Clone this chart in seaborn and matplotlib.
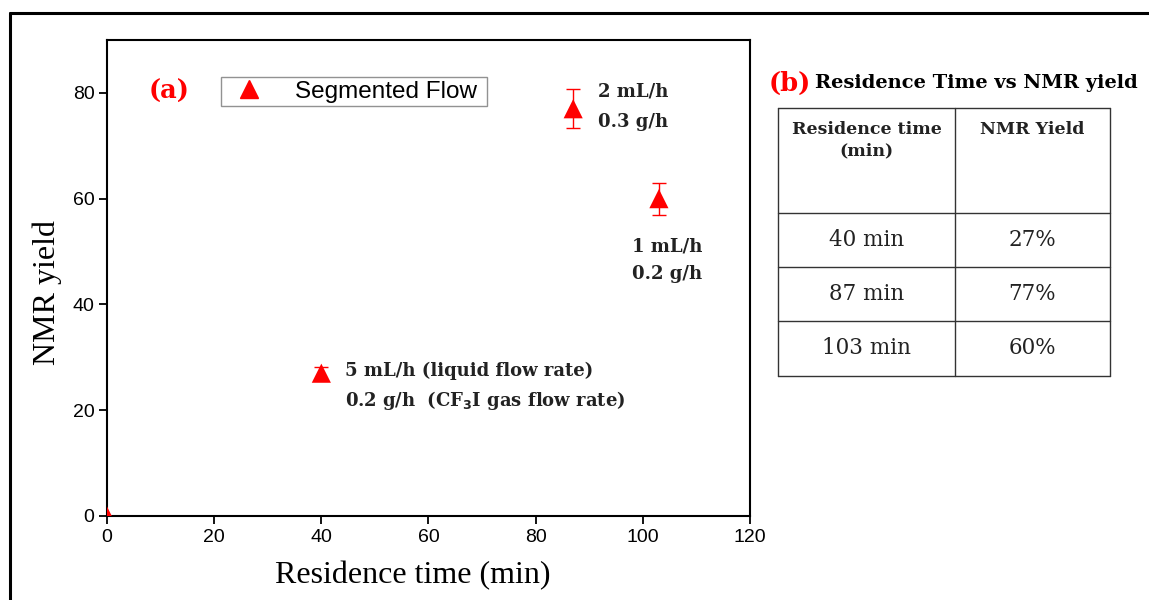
import matplotlib
matplotlib.use("Agg")
import matplotlib.pyplot as plt
import seaborn as sns
import pandas as pd
from matplotlib.lines import Line2D

# ---- data ----
residence_time = [0, 40, 87, 103]
nmr_yield = [0, 27, 77, 60]
yield_err = [0, 1.2, 3.7, 3.0]
series_name = "Segmented Flow"

table_header = ["Residence time\n(min)", "NMR Yield"]
table_times = ["40 min", "87 min", "103 min"]
table_yields = ["27%", "77%", "60%"]

x_ticks = [0, 20, 40, 60, 80, 100, 120]
y_ticks = [0, 20, 40, 60, 80]

sns.set_theme(style="white")
plt.rcParams["font.family"] = ["Liberation Sans", "DejaVu Sans"]

fig = plt.figure(figsize=(11.49, 6.0), dpi=100)
ax = fig.add_axes([107/1149, 84/600, 643/1149, 476/600])

df = pd.DataFrame({"t": residence_time, "y": nmr_yield, "s": [series_name]*len(residence_time)})
ax.errorbar(residence_time, nmr_yield, yerr=yield_err, fmt="none", ecolor="red",
            elinewidth=1.0, capsize=5, capthick=1.0, zorder=2)
sns.scatterplot(data=df, x="t", y="y", hue="s", palette=["red"], marker="^", s=190,
                edgecolor="none", ax=ax, zorder=3, legend=False)

ax.set_xlim(0, 120)
ax.set_ylim(0, 90)
ax.set_xticks(x_ticks)
ax.set_yticks(y_ticks)
ax.tick_params(axis="both", direction="out", length=6, width=1.3, color="black",
               labelsize=14, labelcolor="black", bottom=True, left=True, pad=3)
for lab in ax.get_xticklabels() + ax.get_yticklabels():
    lab.set_family("Liberation Sans")
for sp in ax.spines.values():
    sp.set_color("black")
    sp.set_linewidth(1.5)

ax.set_xlabel("Residence time (min)", fontsize=23, family="Liberation Serif", color="black")
ax.set_ylabel("NMR yield", fontsize=23, family="Liberation Serif", color="black")
ax.xaxis.set_label_coords(0.475, -0.095)
ax.yaxis.set_label_coords(-0.07, 0.47)

# legend
handle = Line2D([], [], marker="^", color="red", linestyle="none", markersize=13)
leg = ax.legend([handle], [series_name + " "], loc="upper left", bbox_to_anchor=(0.177, 0.922),
                frameon=True, fancybox=False, fontsize=17.5, handletextpad=0.9,
                borderpad=0.15, edgecolor="#777777", borderaxespad=0, handlelength=2.0)
leg.get_frame().set_linewidth(1.0)
for t in leg.get_texts():
    t.set_color("black")

SERIF = "DejaVu Serif"
ax.text(0.064, 0.893, "(a)", transform=ax.transAxes, fontsize=18.5, color="red",
        family=SERIF, fontweight="bold", va="center")

ann_kw = dict(family=SERIF, fontweight="bold", color="#222222", fontsize=13, va="center")
ax.text(44.4, 27.4, "5 mL/h (liquid flow rate)", **ann_kw)
ax.text(44.4, 21.9, "0.2 g/h  (CF$_\\mathbf{3}$I gas flow rate)", **ann_kw)
ax.text(91.6, 80.2, "2 mL/h", **ann_kw)
ax.text(91.6, 74.5, "0.3 g/h", **ann_kw)
ax.text(98.0, 51.0, "1 mL/h", **ann_kw)
ax.text(98.0, 45.8, "0.2 g/h", **ann_kw)

# ---- table (b) ----
def fx(px):
    return px / 1149
def fy(py):
    return 1 - py / 600

fig.text(fx(769), fy(83), "(b)", fontsize=18.5, color="red", family=SERIF,
         fontweight="bold", va="center", ha="left")
fig.text(fx(815), fy(83), "Residence Time vs NMR yield", fontsize=14, color="black",
         family=SERIF, fontweight="bold", va="center", ha="left")

col_x = [778, 955, 1110]
row_y = [108, 213, 267, 321, 376]
lw = 1.0
for x in col_x:
    fig.add_artist(Line2D([fx(x), fx(x)], [fy(row_y[0]), fy(row_y[-1])], color="#333333", lw=lw))
for y in row_y:
    fig.add_artist(Line2D([fx(col_x[0]), fx(col_x[-1])], [fy(y), fy(y)], color="#333333", lw=lw))

for i, h in enumerate(table_header):
    cx = (col_x[i] + col_x[i+1]) / 2
    fig.text(fx(cx), fy(121), h, fontsize=12.5, family=SERIF, fontweight="bold",
             ha="center", va="top", color="#222222", linespacing=1.35)
for r in range(3):
    cy = (row_y[r+1] + row_y[r+2]) / 2
    fig.text(fx((col_x[0]+col_x[1])/2), fy(cy), table_times[r], fontsize=15.5,
             family=SERIF, ha="center", va="center", color="#222222")
    fig.text(fx((col_x[1]+col_x[2])/2), fy(cy), table_yields[r], fontsize=15.5,
             family=SERIF, ha="center", va="center", color="#222222")

# outer border (top and left visible)
fig.add_artist(Line2D([fx(10), 1.0], [fy(13), fy(13)], color="black", lw=2.2))
fig.add_artist(Line2D([fx(10), fx(10)], [fy(13), 0.0], color="black", lw=2.2))

fig.savefig("out.png", dpi=100)
